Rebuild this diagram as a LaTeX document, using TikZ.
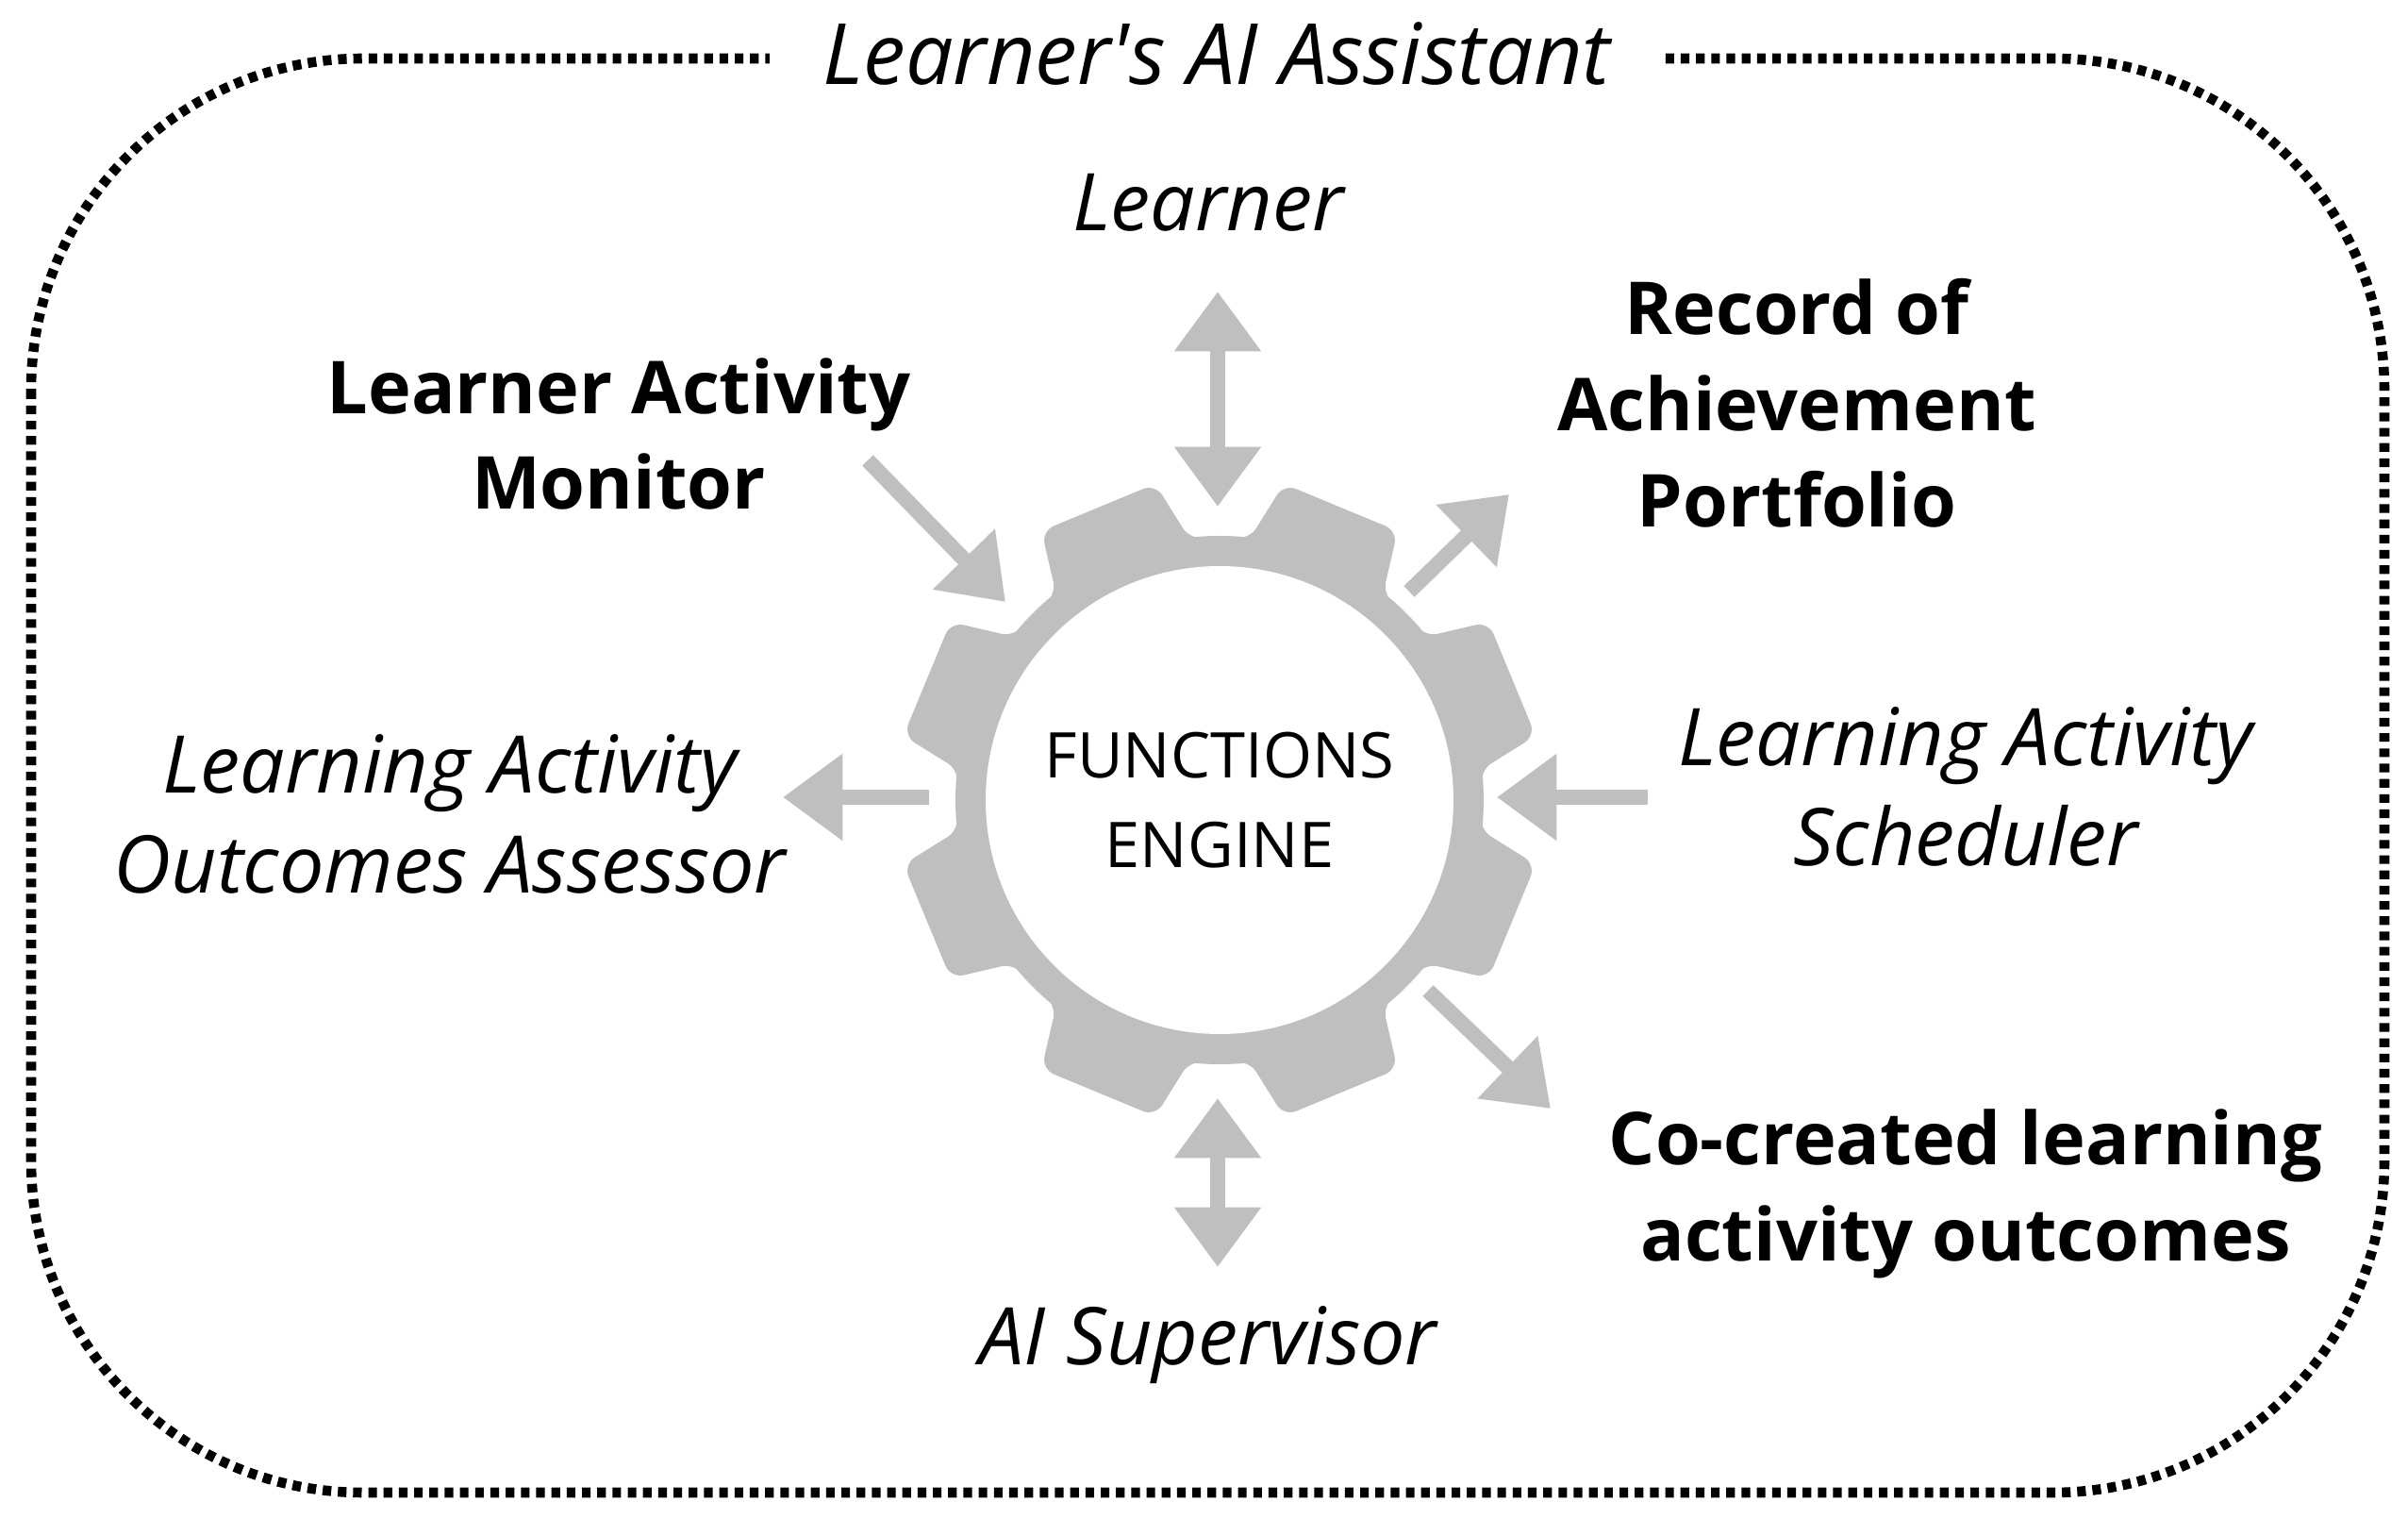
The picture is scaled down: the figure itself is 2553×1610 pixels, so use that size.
\documentclass[tikz,border=0pt]{standalone}
\usepackage{fontspec}
\setmainfont{Open Sans}
\usetikzlibrary{arrows.meta,calc}
\definecolor{gearg}{HTML}{BFBFBF}
\begin{document}
\begin{tikzpicture}[x=0.01cm,y=-0.01cm,
  lbl/.style={font=\fontsize{24}{30}\selectfont\itshape,align=center,inner sep=0},
  blbl/.style={font=\fontsize{22}{29}\selectfont\bfseries,align=center,inner sep=0},
  arr/.style={draw=gearg,line width=4.6pt,-{Triangle[length=18pt,width=25pt]}},
  darr/.style={draw=gearg,line width=4.6pt,{Triangle[length=18pt,width=25pt]}-{Triangle[length=18pt,width=25pt]}}]
\useasboundingbox (0,0) rectangle (2553,1610);
\fill[white] (0,0) rectangle (2553,1610);
% border
\draw[line width=3pt,dash pattern=on 2.6pt off 2pt,rounded corners=100] (33,62) rectangle (2528,1582);
\node[lbl,font=\fontsize{25.5}{30}\selectfont\itshape,fill=white,inner xsep=16pt,inner ysep=4pt] (title) at (1290,57) {Learner\textquotesingle s AI Assistant};
% gear
\coordinate (c) at (1293,848);
\fill[gearg] (c) circle[radius=280];
\fill[gearg,rounded corners=4pt] ($(c)+(6.5:278)$)
  \foreach \a in {22.5,67.5,...,337.5}{
    -- ($(c)+({\a-11}:342)$) -- ($(c)+({\a+11}:342)$) -- ($(c)+({\a+16}:278)$)
    arc[start angle=\a+16,end angle=\a+29,radius=278]
  } -- cycle;
\fill[white] (c) circle[radius=248];
\node[font=\fontsize{19}{27}\selectfont,align=center] (eng) at (c) {FUNCTIONS\\ENGINE};
% labels
\node[lbl] (learner) at (1281,215) {Learner};
\node[blbl] (mon) at (656,460) {Learner Activity\\Monitor};
\node[blbl] (rec) at (1905,427) {Record of\\Achievement\\Portfolio};
\node[lbl] (ass) at (477,863) {Learning Activity\\Outcomes Assessor};
\node[lbl] (sch) at (2084,834) {Learning Activity\\Scheduler};
\node[blbl] (co) at (2084,1265) {Co-created learning\\activity outcomes};
\node[lbl] (sup) at (1281,1426) {AI Supervisor};
% connectors
\coordinate (l1) at (1291,309); \coordinate (l2) at (1291,537);
\coordinate (m1) at (920,488); \coordinate (m2) at (1066,638);
\coordinate (r1) at (1494,627); \coordinate (r2) at (1600,524);
\coordinate (a1) at (985,845); \coordinate (a2) at (830,845);
\coordinate (s1) at (1747,845); \coordinate (s2) at (1587,845);
\coordinate (o1) at (1514,1050); \coordinate (o2) at (1644,1175);
\coordinate (u1) at (1291,1164); \coordinate (u2) at (1291,1343);
\draw[darr] (l1) -- (l2);
\draw[arr] (m1) -- (m2);
\draw[arr] (r1) -- (r2);
\draw[arr] (a1) -- (a2);
\draw[arr] (s1) -- (s2);
\draw[arr] (o1) -- (o2);
\draw[darr] (u1) -- (u2);
\end{tikzpicture}
\end{document}
